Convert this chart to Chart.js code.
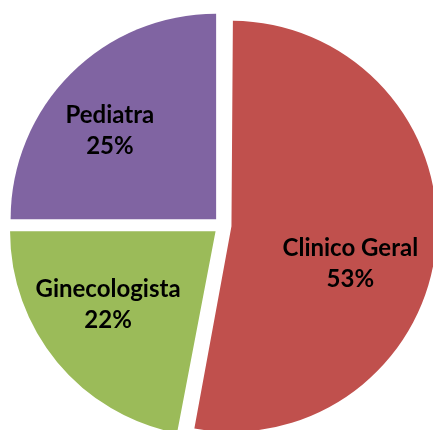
<!DOCTYPE html>
<html>
<head>
<meta charset="utf-8">
<script src="https://cdn.jsdelivr.net/npm/chart.js@4/dist/chart.umd.min.js"></script>
<style>
  html, body { margin: 0; padding: 0; background: #ffffff; }
  #wrap { width: 433px; height: 430px; }
</style>
</head>
<body>
<div id="wrap"><canvas id="c" width="433" height="430"></canvas></div>
<script>
const categories = ['Clinico Geral', 'Ginecologista', 'Pediatra'];
const values = [53, 22, 25];
const sliceColors = ['#C0504D', '#9BBB59', '#8064A2'];

// Keep every exploded slice at the same radius (Chart.js grows small-angle
// exploded slices' radius; we cancel that so the explode is a pure shift).
const equalRadiusPlugin = {
  id: 'equalRadius',
  afterDatasetUpdate(chart, args) {
    const meta = chart.getDatasetMeta(args.index);
    meta.data.forEach(arc => {
      const off = (arc.options.offset || 0) / 4;
      const fix = 1 - Math.sin(Math.min(Math.PI, arc.circumference || 0));
      arc.outerRadius = arc.outerRadius - off * fix;
    });
  }
};

const labelPlugin = {
  id: 'sliceLabels',
  afterDatasetsDraw(chart, args, opts) {
    const ctx = chart.ctx;
    const meta = chart.getDatasetMeta(0);
    const total = values.reduce((a, b) => a + b, 0);
    ctx.save();
    ctx.fillStyle = opts.color;
    ctx.font = opts.font;
    ctx.textAlign = 'center';
    ctx.textBaseline = 'middle';
    meta.data.forEach((arc, i) => {
      const p = arc.getProps(['x', 'y', 'startAngle', 'endAngle', 'outerRadius'], true);
      const mid = (p.startAngle + p.endAngle) / 2;
      const t = (arc.options.offset || 0) / 4;
      const a = mid + (opts.angleTweak[i] || 0) * Math.PI / 180;
      const r = p.outerRadius * opts.radiusFrac[i];
      const cx = p.x + Math.cos(mid) * t + Math.cos(a) * r;
      const cy = p.y + Math.sin(mid) * t + Math.sin(a) * r;
      const pct = Math.round(values[i] / total * 100) + '%';
      const lh = opts.lineHeight;
      ctx.fillText(categories[i], cx, cy - lh / 2);
      ctx.fillText(pct, cx, cy + lh / 2);
    });
    ctx.restore();
  }
};

new Chart(document.getElementById('c'), {
  type: 'pie',
  data: {
    labels: categories,
    datasets: [{
      data: values,
      backgroundColor: sliceColors,
      borderWidth: 0,
      offset: 36,
      clip: false
    }]
  },
  options: {
    responsive: false,
    animation: false,
    radius: 205.5,
    layout: { padding: { left: 12, right: 0, top: 21, bottom: 0 } },
    plugins: {
      legend: { display: false },
      tooltip: { enabled: false },
      sliceLabels: {
        color: '#000000',
        font: 'bold 24px Lato',
        lineHeight: 31,
        angleTweak: [12.0, 5.4, -5.3],
        radiusFrac: [0.634, 0.633, 0.672]
      }
    }
  },
  plugins: [equalRadiusPlugin, labelPlugin]
});
</script>
</body>
</html>
